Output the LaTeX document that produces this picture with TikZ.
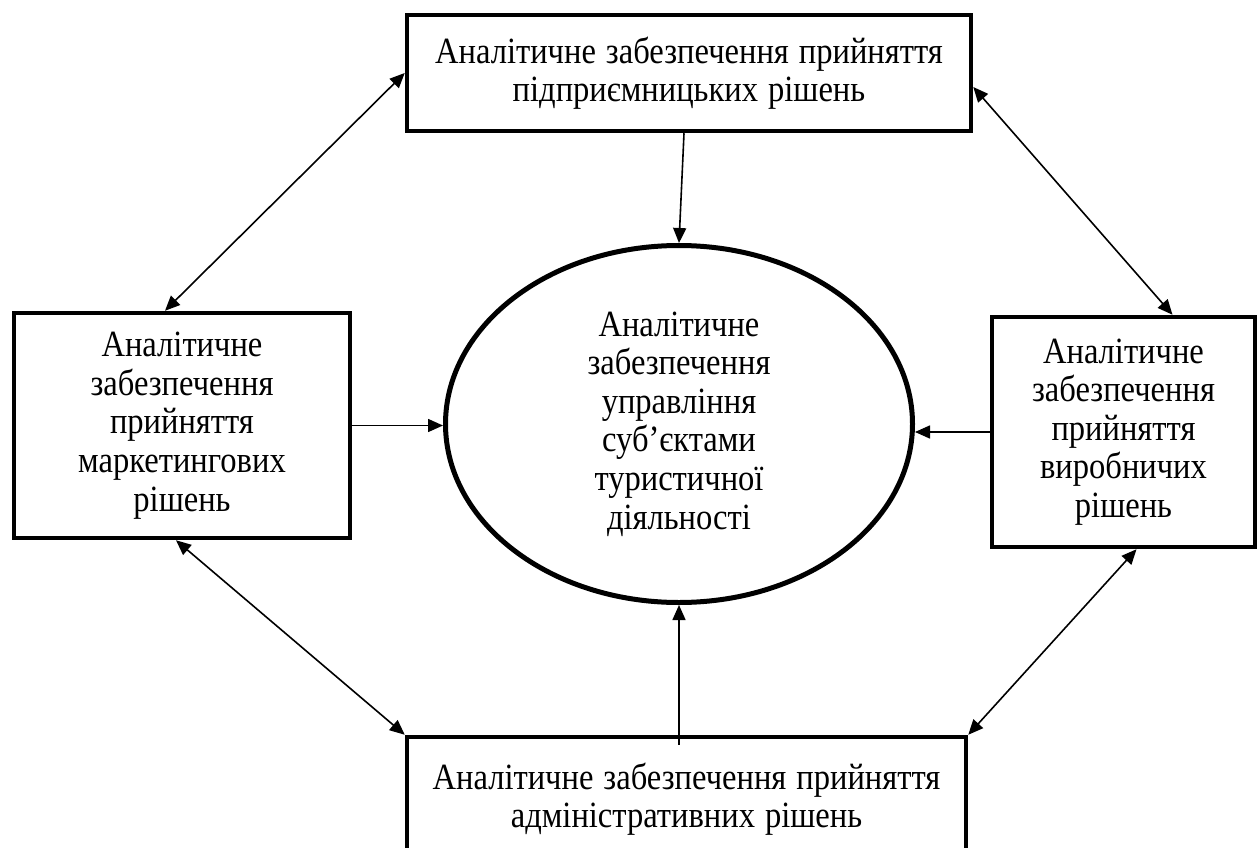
\documentclass[tikz,border=0pt]{standalone}
\usepackage{fontspec}
\setmainfont{Liberation Serif}[FakeStretch=0.88]
\usetikzlibrary{arrows.meta,shapes.geometric}
\newcommand\widerspaces{\spaceskip=10pt\relax}
\begin{document}
\begin{tikzpicture}[x=1pt,y=-1pt,
  txt/.style={font=\fontsize{37}{38.6}\selectfont,align=center,
    execute at begin node=\widerspaces},
  box/.style={txt,draw,rectangle,line width=4.5pt,inner sep=0pt},
  hub/.style={txt,draw,ellipse,line width=5pt,inner sep=0pt,
    minimum width=467pt,minimum height=357pt},
  link/.style={line width=1.6pt,-{Triangle[length=15pt,width=13pt]}},
  twoway/.style={line width=1.6pt,
    {Triangle[length=15pt,width=13pt]}-{Triangle[length=15pt,width=13pt]}}]
\useasboundingbox (0,0) rectangle (1258,848);
\clip (0,0) rectangle (1258,848);

% central block
\node[hub] (hub) at (679,424)
  {Аналітичне\\забезпечення\\управління\\суб’єктами\\туристичної\\діяльності};

% surrounding blocks
\node[box,minimum width=564pt,minimum height=116pt] (top) at (689,73)
  {Аналітичне забезпечення прийняття\\підприємницьких рішень};
\node[box,minimum width=336pt,minimum height=225pt] (left) at (182,425.5)
  {Аналітичне\\забезпечення\\прийняття\\маркетингових\\рішень};
\node[box,minimum width=263pt,minimum height=230pt] (right) at (1123.5,432)
  {Аналітичне\\забезпечення\\прийняття\\виробничих\\рішень};
\node[box,minimum width=559pt,minimum height=124pt] (bottom) at (686.5,799)
  {Аналітичне забезпечення прийняття\\адміністративних рішень};

% links into the centre
\draw[link] ([xshift=-5pt]top.south) -- (hub.north);
\draw[link] (left.east) -- (left.east -| hub.west);
\draw[link] (right.west) -- (right.west -| hub.east);
\draw[link] ([yshift=-10pt]hub.south |- bottom.north) -- (hub.south);

% links between neighbouring blocks
\draw[twoway] (top.west) -- ([xshift=-17pt]left.north);
\draw[twoway] ([yshift=-14pt]top.east) -- ([xshift=49pt]right.north);
\draw[twoway] ([xshift=-6pt]left.south) -- (bottom.north west);
\draw[twoway] ([xshift=13pt]right.south) -- (bottom.north east);
\end{tikzpicture}
\end{document}
